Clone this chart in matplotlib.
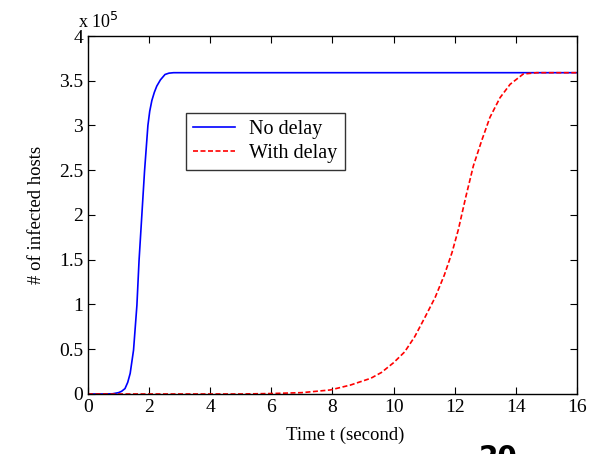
import numpy as np
import matplotlib
matplotlib.use('Agg')
import matplotlib.pyplot as plt

plt.rcParams['font.family'] = ['Liberation Serif', 'DejaVu Serif']

# infected hosts (units of 1e5)
t_nodelay = [0, 0.5, 0.8, 1.0, 1.1, 1.21, 1.3, 1.38, 1.49, 1.6, 1.67, 1.76, 1.85,
             1.96, 2.02, 2.09, 2.17, 2.25, 2.37, 2.52, 2.65, 2.8, 16]
hosts_nodelay = [0, 0, 0.002, 0.015, 0.03, 0.06, 0.13, 0.23, 0.49, 0.99, 1.49, 1.99,
                 2.49, 3.0, 3.16, 3.28, 3.37, 3.44, 3.51, 3.57, 3.585, 3.59, 3.59]

t_delay = [0, 5, 6, 7, 7.93, 8.59, 9.25, 9.6, 10.0, 10.36, 10.69, 11.03, 11.36,
           11.66, 11.91, 12.12, 12.36, 12.61, 12.88, 13.15, 13.48, 13.81, 14.24,
           14.68, 15, 16]
hosts_delay = [0, 0, 0.005, 0.015, 0.045, 0.10, 0.175, 0.24, 0.35, 0.47, 0.64, 0.86,
               1.08, 1.33, 1.58, 1.84, 2.2, 2.55, 2.83, 3.09, 3.31, 3.46, 3.575,
               3.59, 3.59, 3.59]

fig = plt.figure(figsize=(5.97, 4.54), dpi=100)
ax = fig.add_axes([0.1474, 0.1322, 0.8191, 0.7885])

ax.plot(t_nodelay, hosts_nodelay, color='blue', lw=1.2, label='No delay')
ax.plot(t_delay, hosts_delay, color='red', lw=1.2, ls=(0, (3, 1.5)), label='With delay')

ax.set_xlim(0, 16)
ax.set_ylim(0, 4)
ax.set_xticks(np.arange(0, 17, 2))
ax.set_yticks(np.arange(0, 4.01, 0.5))
ax.set_yticklabels(['0', '0.5', '1', '1.5', '2', '2.5', '3', '3.5', '4'])
ax.tick_params(direction='in', top=True, right=True, labelsize=14, length=5, width=0.8)
for s in ax.spines.values():
    s.set_linewidth(1.0)

ax.text(-0.02, 1.01, r'x 10$^5$', transform=ax.transAxes, fontsize=13, va='bottom')

ax.set_xlabel('Time t (second)', fontsize=13.5, labelpad=8)
ax.xaxis.set_label_coords(0.525, -0.09)
ax.set_ylabel('# of infected hosts', fontsize=13.5, labelpad=10)

leg = ax.legend(loc='upper left', bbox_to_anchor=(0.2, 0.785), fontsize=14.5,
                frameon=True, fancybox=False, edgecolor='black', handlelength=2.1,
                borderpad=0.35, labelspacing=0.25, handletextpad=0.7, borderaxespad=0)
leg.get_frame().set_linewidth(1.0)

# slide page number, cut by the bottom edge
fig.text(0.834, -0.027, '20', fontsize=20, fontweight='bold', family='DejaVu Sans',
         ha='center', va='baseline')

fig.savefig('out.png', dpi=100)
